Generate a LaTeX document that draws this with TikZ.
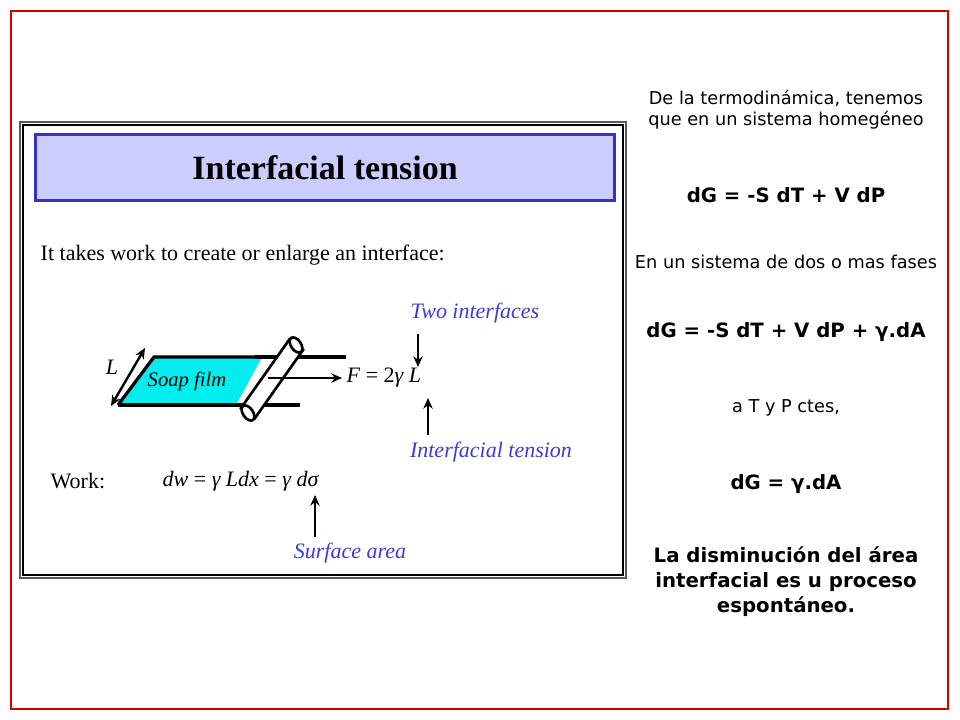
\documentclass[tikz,border=0pt]{standalone}
\usepackage{fontspec}
\setmainfont{Liberation Serif}
\newfontfamily\vsans{DejaVu Sans}
\usetikzlibrary{arrows.meta}
\definecolor{lav}{RGB}{204,204,255}
\definecolor{tblue}{RGB}{51,51,204}
\definecolor{lblue}{RGB}{60,60,220}
\definecolor{soap}{RGB}{0,238,238}
\tikzset{
 rtxt/.style={font=\vsans\fontsize{13.3}{16}\selectfont, align=center},
 rbold/.style={font=\vsans\bfseries\fontsize{14.8}{19}\selectfont, align=center},
 lbl/.style={font=\fontsize{16.5}{18}\selectfont\itshape, text=lblue, inner sep=1pt},
 ser/.style={font=\fontsize{16.5}{18}\selectfont},
 seri/.style={font=\fontsize{16.5}{18}\selectfont\itshape},
 arr/.style={-{Stealth[length=8pt,width=7pt]}, line width=1.8pt},
}
\begin{document}
\begin{tikzpicture}[x=0.75pt,y=-0.75pt]
\useasboundingbox (0,0) rectangle (960,720);
\fill[white] (0,0) rectangle (960,720);
\draw[red!80!black, line width=1.5pt] (11,11) rectangle (948,709);
% panel
\draw[gray!70!black, line width=1pt] (20,122) rectangle (626,578);
\draw[black, line width=0.8pt] (23,125) rectangle (623,575);
\node[draw=tblue, line width=2.4pt, fill=lav, minimum width=579*0.75pt, minimum height=66*0.75pt, anchor=north west] (title) at (34,133) {};
\node[font=\bfseries\fontsize{25.5}{28}\selectfont] at (title.center) {Interfacial tension};
\node[anchor=west, ser] (intro) at (36,255) {It takes work to create or enlarge an interface:};
% soap film
\coordinate (tl) at (154,357); \coordinate (tr) at (262,357);
\coordinate (br) at (236,405); \coordinate (bl) at (118,405);
\fill[soap] (tl) -- (tr) -- (br) -- (bl) -- cycle;
\draw[line width=2.4pt] (bl) -- (tl) -- (tr);
\draw[line width=2.4pt] (bl) -- (br);
\draw[line width=2.4pt] (255,357) -- (346,357);
\draw[line width=2.4pt] (230,405) -- (300,405);
\node[seri, font=\fontsize{15.5}{18}\selectfont\itshape] (soapl) at (187,381) {Soap film};
% cylinder
\draw[line width=2pt, fill=white] (289,340) -- (241,408) -- (255,418) -- (303,350) -- cycle;
\draw[line width=2pt, fill=white, rotate around={-55:(296,345)}] (296,345) ellipse (8.6 and 5);
\draw[line width=2pt, fill=white, rotate around={-55:(248,413)}] (248,413) ellipse (8.6 and 5);
% force arrow
\coordinate (fs) at (268,378);
\node[ser, anchor=west] (F) at (342,378) {\textit{F} = 2\textit{γ L}};
\draw[arr] (fs) -- (F.west);
% L arrow
\coordinate (la) at (145,348); \coordinate (lb) at (111,406);
\draw[{Stealth[length=8pt,width=7pt]}-{Stealth[length=8pt,width=7pt]}, line width=1.8pt] (la) -- (lb);
\node[seri] (Ll) at (112,367) {L};
% labels
\node[lbl] (two) at (475,313) {Two interfaces};
\node[lbl] (itn) at (491,452) {Interfacial tension};
\coordinate (a1) at (418,334); \coordinate (a2) at (418,367);
\draw[arr] (a1) -- (a2);
\coordinate (b1) at (428,435); \coordinate (b2) at (428,398);
\draw[arr] (b1) -- (b2);
\node[anchor=west, ser] (work) at (46,481) {Work:};
\node[anchor=west, ser] (dw) at (158,481) {\textit{dw} = \textit{γ Ldx} = \textit{γ dσ}};
\coordinate (s1) at (315,537); \coordinate (s2) at (315,495);
\draw[arr] (s1) -- (s2);
\node[lbl] (sa) at (350,553) {Surface area};
% right column
\node[rtxt] (r1) at (786,110) {De la termodinámica, tenemos\\que en un sistema homegéneo};
\node[rbold] (r2) at (786,195) {dG = -S dT + V dP};
\node[rtxt] (r3) at (786,262) {En un sistema de dos o mas fases};
\node[rbold] (r4) at (786,332) {dG = -S dT + V dP + γ.dA};
\node[rtxt] (r5) at (786,408) {a T y P ctes,};
\node[rbold] (r6) at (786,484) {dG = γ.dA};
\node[rbold, font=\vsans\bfseries\fontsize{14.8}{18.8}\selectfont] (r7) at (786,582) {La disminución del área\\interfacial es u proceso\\espontáneo.};
\end{tikzpicture}
\end{document}
